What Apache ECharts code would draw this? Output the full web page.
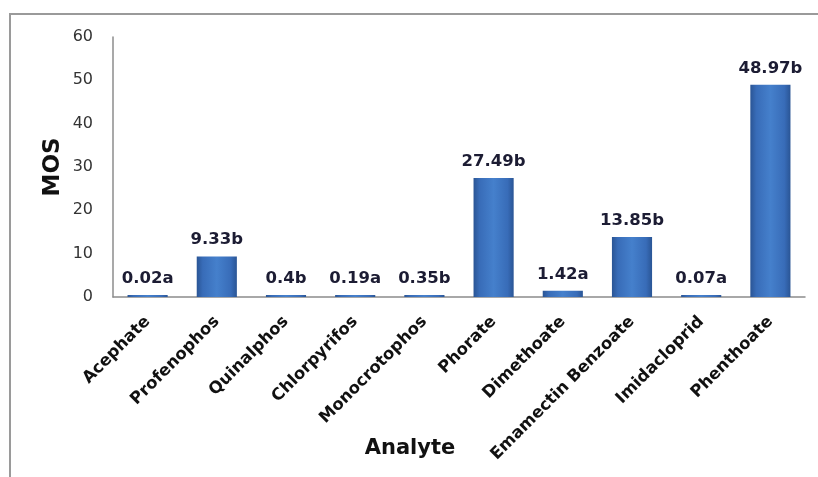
<!DOCTYPE html>
<html>
<head>
<meta charset="utf-8">
<script src="https://cdn.jsdelivr.net/npm/echarts@6/dist/echarts.min.js"></script>
<style>html,body{margin:0;padding:0;background:#fff;}#c{width:818px;height:477px;}</style>
</head>
<body>
<div id="c"></div>
<script>
const categories = ["Acephate","Profenophos","Quinalphos","Chlorpyrifos","Monocrotophos","Phorate","Dimethoate","Emamectin Benzoate","Imidacloprid","Phenthoate"];
const values = [0.02, 9.33, 0.4, 0.19, 0.35, 27.49, 1.42, 13.85, 0.07, 48.97];
const letters = ["a","b","b","a","b","b","a","b","a","b"];
const yTicks = [0, 10, 20, 30, 40, 50, 60];

const chart = echarts.init(document.getElementById('c'));
const font = '"DejaVu Sans", sans-serif';
chart.setOption({
  animation: false,
  graphic: [{
    type: 'polyline',
    shape: {points: [[10, 500], [10, 14], [840, 14]]},
    style: {fill: 'none', stroke: '#9a9a9a', lineWidth: 2}
  }],
  grid: {left: 113, right: 13, top: 37, bottom: 180, containLabel: false, outerBoundsMode: 'none'},
  xAxis: {
    type: 'category', data: categories,
    name: 'Analyte', nameLocation: 'middle', nameGap: 141, nameMoveOverlap: false,
    nameTextStyle: {fontFamily: font, fontSize: 21, fontWeight: 'bold', color: '#111', padding: [0, 98, 0, 0]},
    axisLine: {lineStyle: {color: '#8c8c8c', width: 1.5}},
    axisTick: {show: false},
    axisLabel: {rotate: 45, interval: 0, fontFamily: font, fontSize: 16.5, fontWeight: 'bold', color: '#111', margin: 22}
  },
  yAxis: {
    type: 'value', min: 0, max: 60, interval: 10,
    name: 'MOS', nameLocation: 'middle', nameGap: 48, nameRotate: 90, nameMoveOverlap: false,
    nameTextStyle: {fontFamily: font, fontSize: 23, fontWeight: 'bold', color: '#111'},
    axisLine: {show: true, lineStyle: {color: '#8c8c8c', width: 1.5}},
    axisTick: {show: false},
    splitLine: {show: false},
    axisLabel: {fontFamily: font, fontSize: 16, color: '#333', margin: 20,
      formatter: v => yTicks.includes(v) ? String(v) : ''}
  },
  series: [{
    type: 'bar',
    data: values,
    barWidth: '58%',
    barMinHeight: 2,
    itemStyle: {
      color: new echarts.graphic.LinearGradient(0, 0, 1, 0, [
        {offset: 0, color: '#2a5595'},
        {offset: 0.15, color: '#386cb8'},
        {offset: 0.5, color: '#4580cc'},
        {offset: 0.85, color: '#386cb8'},
        {offset: 1, color: '#2a5595'}
      ])
    },
    label: {
      show: true, position: 'top', distance: 8,
      fontFamily: font, fontSize: 16.5, fontWeight: 'bold', color: '#1c1c33',
      formatter: p => values[p.dataIndex] + letters[p.dataIndex]
    }
  }]
});
</script>
</body>
</html>
